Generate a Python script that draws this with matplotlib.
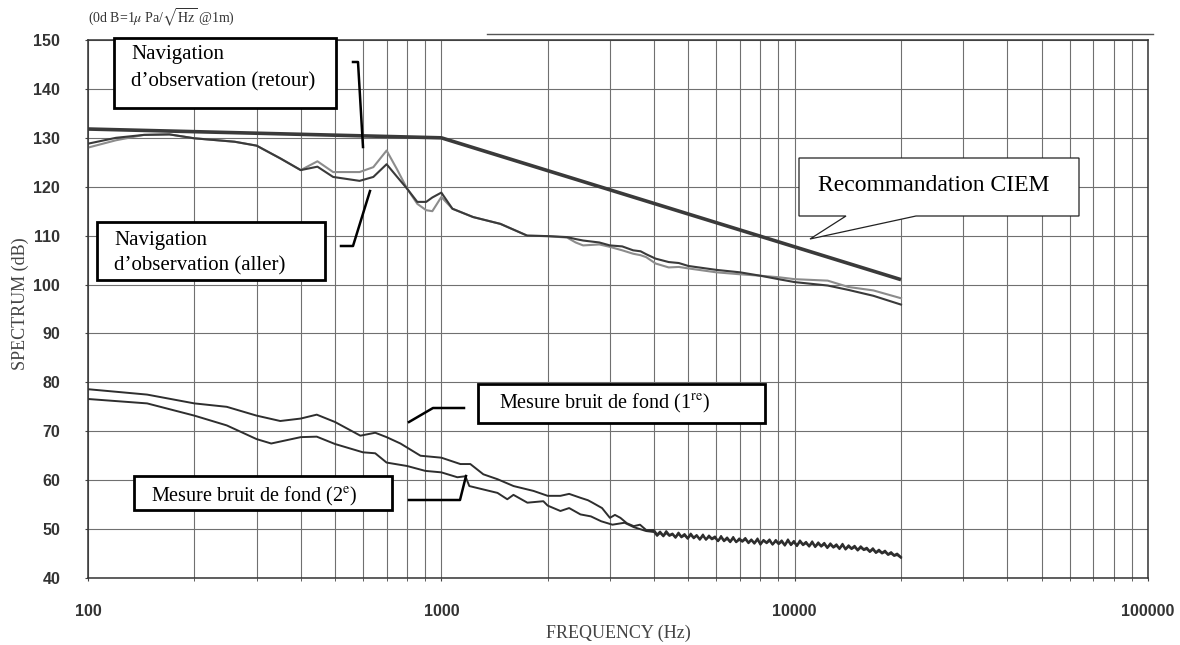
import matplotlib
matplotlib.use("Agg")
import matplotlib.pyplot as plt
from matplotlib.patches import Rectangle, Polygon
from matplotlib.lines import Line2D
from matplotlib.ticker import LogLocator, NullFormatter

plt.rcParams['mathtext.fontset'] = 'stix'

# ICES / CIEM limit curve
ciem_freq = [100, 1000, 20000]
ciem_db = [131.8, 130.0, 101.0]

# observation cruise, outbound (aller) and return (retour)
nav_freq = [100, 120, 144, 170, 200, 260, 300, 350, 400, 446, 494, 587, 642, 700,
            750, 800, 855, 906, 943, 1000, 1075, 1230, 1470, 1750, 2000, 2270,
            2400, 2520, 2800, 3000, 3250, 3490, 3664, 3800, 4040, 4400, 4700,
            5000, 6000, 7000, 8000, 9000, 10000, 12400, 14200, 16700, 20000]
aller_db = [128.8, 130.0, 130.6, 130.7, 129.9, 129.2, 128.4, 125.8, 123.4, 124.1,
            122.0, 121.2, 122.0, 124.6, 122.0, 119.6, 116.9, 116.9, 117.8, 118.8,
            115.5, 113.8, 112.4, 110.0, 109.9, 109.7, 109.3, 109.0, 108.6, 108.0,
            107.8, 107.0, 106.8, 106.2, 105.3, 104.6, 104.4, 103.8, 103.0, 102.5,
            101.8, 101.1, 100.5, 99.8, 98.9, 97.7, 95.9]
retour_db = [128.0, 129.5, 130.6, 130.7, 129.9, 129.2, 128.4, 125.8, 123.4, 125.2,
             123.0, 123.0, 124.0, 127.4, 123.5, 119.6, 116.5, 115.2, 115.0, 117.9,
             115.5, 113.8, 112.4, 110.0, 109.9, 109.6, 108.6, 108.0, 108.2, 107.7,
             107.0, 106.3, 106.0, 105.6, 104.3, 103.5, 103.6, 103.3, 102.5, 102.1,
             101.8, 101.5, 101.1, 100.8, 99.5, 98.8, 97.2]

# background noise, first and second measurement
bruit1_freq = [100, 147, 200, 247, 300, 350, 400, 444, 500, 590, 650, 700, 766,
               873, 1000, 1132, 1208, 1315, 1442, 1601, 1824, 2000, 2173, 2300,
               2476, 2600, 2678, 2850, 3000, 3100, 3212, 3350, 3504, 3650, 3800]
bruit1_db = [78.6, 77.5, 75.7, 75.0, 73.2, 72.1, 72.6, 73.4, 71.9, 69.1, 69.7, 68.8,
             67.5, 65.0, 64.6, 63.3, 63.3, 61.2, 60.2, 58.8, 57.8, 56.8, 56.8, 57.2,
             56.4, 55.9, 55.4, 54.3, 52.3, 52.9, 52.3, 51.2, 50.6, 50.9, 49.8]
bruit2_freq = [100, 147, 200, 247, 300, 330, 400, 444, 500, 600, 650, 700, 800,
               901, 1000, 1110, 1170, 1200, 1315, 1442, 1537, 1600, 1752, 1944,
               2000, 2173, 2300, 2476, 2650, 2834, 3050, 3300, 3504, 3800]
bruit2_db = [76.6, 75.7, 73.2, 71.2, 68.4, 67.5, 68.8, 68.9, 67.4, 65.7, 65.5, 63.6,
             62.9, 61.9, 61.6, 60.6, 60.8, 58.8, 58.1, 57.4, 56.1, 57.0, 55.4, 55.7,
             54.8, 53.7, 54.3, 53.0, 52.6, 51.6, 50.9, 51.3, 50.4, 49.6]

# high-frequency part where both noise measurements overlap
tail_freq = [4000, 4080, 4160, 4250, 4330, 4420, 4510, 4600, 4690, 4780,
             4880, 4980, 5080, 5180, 5280, 5390, 5500, 5610, 5720, 5830,
             5950, 6070, 6190, 6310, 6440, 6570, 6700, 6830, 6970, 7110,
             7250, 7400, 7540, 7690, 7850, 8000, 8160, 8330, 8490, 8660,
             8840, 9010, 9190, 9380, 9570, 9760, 9950, 10150, 10350, 10560,
             10770, 10990, 11210, 11430, 11660, 11890, 12130, 12370, 12620, 12870,
             13130, 13390, 13660, 13930, 14210, 14490, 14780, 15080, 15380, 15690,
             16000, 16320, 16650, 16980, 17320, 17670, 18020, 18380, 18750, 19120,
             19500, 20000]
tail1_db = [49.8, 48.9, 49.5, 48.7, 49.6, 48.8, 49.1, 48.4, 49.3, 48.5,
            49.0, 48.2, 49.1, 48.3, 48.8, 48.0, 48.9, 47.9, 48.7, 48.1,
            48.5, 47.6, 48.6, 47.7, 48.3, 47.5, 48.4, 47.4, 48.1, 47.6,
            48.2, 47.3, 47.9, 47.2, 48.1, 47.0, 47.8, 47.3, 47.9, 46.9,
            47.8, 47.1, 47.7, 46.8, 47.9, 46.9, 47.6, 46.7, 47.7, 46.9,
            47.4, 46.6, 47.5, 46.5, 47.3, 46.6, 47.2, 46.3, 47.1, 46.4,
            46.9, 46.1, 47.0, 46.0, 46.7, 46.1, 46.6, 45.8, 46.5, 45.9,
            46.2, 45.5, 46.1, 45.3, 45.8, 45.2, 45.6, 44.9, 45.3, 44.7,
            45.0, 44.3]
tail2_db = [49.4, 48.6, 49.2, 48.5, 49.2, 48.6, 48.9, 48.2, 49.0, 48.3,
            48.7, 48.0, 48.8, 48.1, 48.6, 47.8, 48.6, 47.8, 48.4, 47.9,
            48.2, 47.5, 48.3, 47.5, 48.0, 47.3, 48.1, 47.3, 47.8, 47.4,
            47.9, 47.1, 47.7, 47.0, 47.8, 46.8, 47.6, 47.1, 47.6, 46.8,
            47.5, 46.9, 47.4, 46.6, 47.6, 46.7, 47.3, 46.5, 47.4, 46.7,
            47.1, 46.4, 47.2, 46.3, 47.0, 46.4, 46.9, 46.1, 46.8, 46.2,
            46.6, 45.9, 46.7, 45.8, 46.4, 45.9, 46.3, 45.6, 46.2, 45.7,
            45.9, 45.3, 45.8, 45.1, 45.5, 45.0, 45.3, 44.7, 45.0, 44.5,
            44.7, 44.1]

x_ticks = [100, 1000, 10000, 100000]
x_ticklabels = ['100', '1000', '10000', '100000']
y_ticks = [40, 50, 60, 70, 80, 90, 100, 110, 120, 130, 140, 150]

W, H = 1180, 645


def fx(x):
    return x / W


def fy(y):
    return 1 - y / H


fig = plt.figure(figsize=(W / 100, H / 100), dpi=100)
ax = fig.add_axes([fx(88), fy(578), fx(1148) - fx(88), fy(40) - fy(578)])

ax.set_xscale('log')
ax.set_xlim(100, 100000)
ax.set_ylim(40, 150)
ax.set_xticks(x_ticks)
ax.set_xticklabels(x_ticklabels)
ax.xaxis.set_minor_locator(LogLocator(base=10, subs=range(2, 10)))
ax.xaxis.set_minor_formatter(NullFormatter())
ax.set_yticks(y_ticks)
ax.grid(which='both', color='#707070', lw=0.8)
ax.set_axisbelow(True)
for s in ax.spines.values():
    s.set_color('#333333')
    s.set_linewidth(1.1)
ax.tick_params(which='both', direction='out', length=2, color='#444444')
ax.tick_params(axis='y', pad=18)
ax.tick_params(axis='x', pad=17)
for lab in ax.get_xticklabels() + ax.get_yticklabels():
    lab.set_family('Liberation Sans')
    lab.set_fontsize(11.5)
    lab.set_fontweight('bold')
    lab.set_color('#333333')

ax.plot(ciem_freq, ciem_db, color='#3a3a3a', lw=2.6, solid_capstyle='butt')
ax.plot(nav_freq, retour_db, color='#8c8c8c', lw=1.5)
ax.plot(nav_freq, aller_db, color='#3a3a3a', lw=1.5)
ax.plot(bruit1_freq + tail_freq, bruit1_db + tail1_db, color='#2e2e2e', lw=1.4)
ax.plot(bruit2_freq + tail_freq, bruit2_db + tail2_db, color='#2e2e2e', lw=1.4)

# header and axis titles
fig.text(fx(88), fy(18), r'(0d B=1$\mu$ Pa/$\sqrt{\mathrm{Hz}}$ @1m)',
         family='Liberation Serif', fontsize=10, color='#333333', va='center')
fig.add_artist(Line2D([fx(487), fx(1153)], [fy(34), fy(34)], color='#555555', lw=1))
fig.text(fx(20), fy(304), 'SPECTRUM (dB)', rotation=90, ha='center', va='center',
         family='Liberation Serif', fontsize=13, color='#444444')
fig.text(fx(618), fy(633), 'FREQUENCY (Hz)', ha='center', va='center',
         family='Liberation Serif', fontsize=13, color='#444444')


def label_box(x0, y0, x1, y1, lines, tx, baselines, size):
    fig.add_artist(Rectangle((fx(x0), fy(y1)), fx(x1) - fx(x0), fy(y0) - fy(y1),
                             transform=fig.transFigure, facecolor='white',
                             edgecolor='black', lw=2))
    for text, by in zip(lines, baselines):
        fig.text(fx(tx), fy(by), text, family='Liberation Serif', fontsize=size,
                 va='baseline', ha='left', color='black')


def leader(points):
    xs = [fx(p[0]) for p in points]
    ys = [fy(p[1]) for p in points]
    fig.add_artist(Line2D(xs, ys, color='black', lw=1.8))


label_box(114, 38, 336, 108, ['Navigation', 'd\u2019observation (retour)'],
          131, [59, 86], 15)
leader([(353, 62), (358, 62), (363, 147)])

label_box(97, 222, 325, 280, ['Navigation', 'd\u2019observation (aller)'],
          114, [245, 270], 15)
leader([(341, 246), (353, 246), (370, 191)])

label_box(478, 384, 765, 423, [r'Mesure bruit de fond (1$^{\mathrm{re}}$)'],
          499, [408], 14.5)
leader([(409, 422), (433, 408), (464, 408)])

label_box(134, 476, 392, 510, [r'Mesure bruit de fond (2$^{\mathrm{e}}$)'],
          151, [501], 14.5)
leader([(409, 500), (460, 500), (466, 476)])

# speech-bubble callout for the CIEM curve
bubble = [(799, 158), (1079, 158), (1079, 216), (916, 216), (810, 239),
          (846, 216), (799, 216)]
fig.add_artist(Polygon([(fx(x), fy(y)) for x, y in bubble], closed=True,
                       transform=fig.transFigure, facecolor='white',
                       edgecolor='#222222', lw=0.9))
fig.text(fx(818), fy(191), 'Recommandation CIEM', family='Liberation Serif',
         fontsize=17, va='baseline', ha='left', color='black')

fig.savefig('out.png', dpi=100)
